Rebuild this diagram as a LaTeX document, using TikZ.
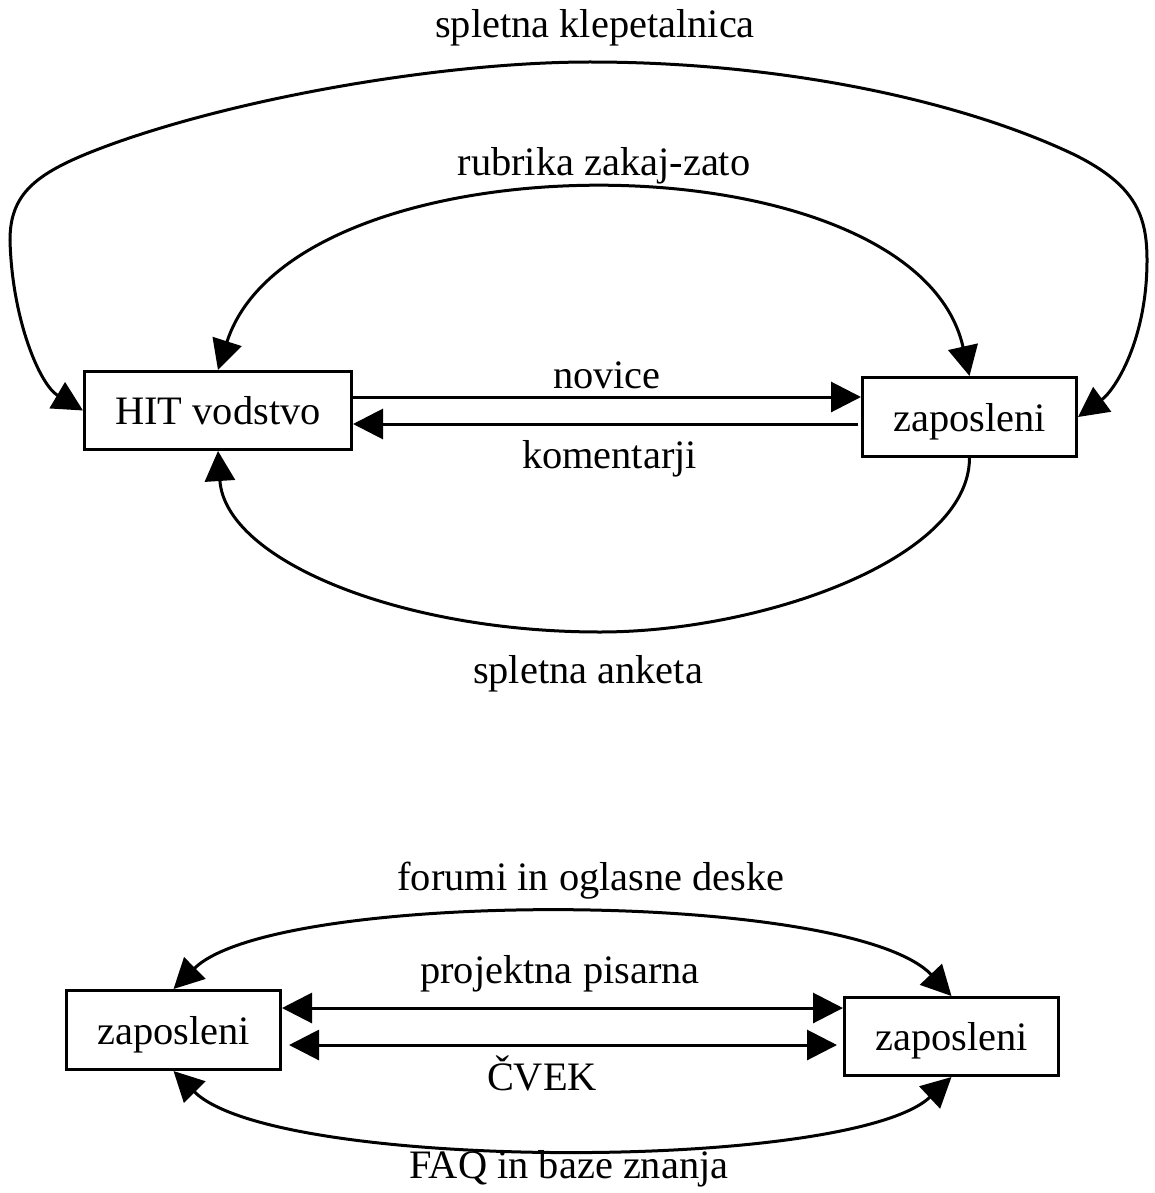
\documentclass[tikz,border=0pt]{standalone}
\usepackage{fontspec}
\setmainfont{Liberation Serif}
\usetikzlibrary{arrows.meta}
\begin{document}
\begin{tikzpicture}[x=1pt,y=-1pt,line width=3pt,
  txt/.style={font=\fontsize{40.4}{48}\selectfont},
  box/.style={txt,draw,rectangle,line width=3pt,inner sep=0pt,text depth=0pt},
  lbl/.style={txt,anchor=base,inner sep=0pt},
  arr/.style={-{Triangle[length=30pt,width=30pt]}},
  darr/.style={{Triangle[length=30pt,width=30pt]}-{Triangle[length=30pt,width=30pt]}}]
\useasboundingbox (0,0) rectangle (1155,1193);
% boxes
\node[box,minimum width=267pt,minimum height=78pt] (hit) at (218,410.5) {HIT vodstvo};
\node[box,minimum width=214pt,minimum height=79pt] (zt) at (969.5,417) {zaposleni};
\node[box,minimum width=214pt,minimum height=79pt] (zl) at (173.5,1030) {zaposleni};
\node[box,minimum width=214pt,minimum height=78pt] (zr) at (951.5,1036.5) {zaposleni};
% helper levels
\coordinate (ny) at (0,397);
\coordinate (ky) at (0,424);
\coordinate (py) at (0,1008);
\coordinate (cy) at (0,1045);
% straight connectors
\draw[arr] (hit.east |- ny) -- (zt.west |- ny);
\draw[arr,shorten <=3pt] (zt.west |- ky) -- (hit.east |- ky);
\draw[darr] (zl.east |- py) -- (zr.west |- py);
\draw[darr,shorten <=7pt,shorten >=6pt] (zl.east |- cy) -- (zr.west |- cy);
% curved connectors
\draw[darr] (hit.north) .. controls (294,132) and (915,132) .. (zt.north);
\draw[darr] (hit.west) .. controls (40,385) and (12,320) .. (10,240)
  .. controls (10,190) and (40,170) .. (115,143)
  .. controls (250,95) and (450,62) .. (590,62)
  .. controls (780,62) and (960,100) .. (1075,155)
  .. controls (1135,185) and (1147,215) .. (1147,260)
  .. controls (1147,340) and (1115,390) .. (zt.east);
\draw[arr] (zt.south) .. controls (969,560) and (760,632) .. (600,632)
  .. controls (400,632) and (225,560) .. (hit.south);
\draw[darr] (zl.north) .. controls (275,889) and (850,889) .. (zr.north);
\draw[darr] (zl.south) .. controls (275,1172) and (850,1172) .. (zr.south);
% labels
\node[lbl] (l1) at (595,38) {spletna klepetalnica};
\node[lbl] (l2) at (604,176) {rubrika zakaj-zato};
\node[lbl] (l3) at (607,388) {novice};
\node[lbl] (l4) at (609.5,468) {komentarji};
\node[lbl] (l5) at (588,683) {spletna anketa};
\node[lbl] (l6) at (591,890) {forumi in oglasne deske};
\node[lbl] (l7) at (560,983) {projektna pisarna};
\node[lbl] (l8) at (542,1090) {ČVEK};
\node[lbl] (l9) at (569,1178) {FAQ in baze znanja};
\end{tikzpicture}
\end{document}
